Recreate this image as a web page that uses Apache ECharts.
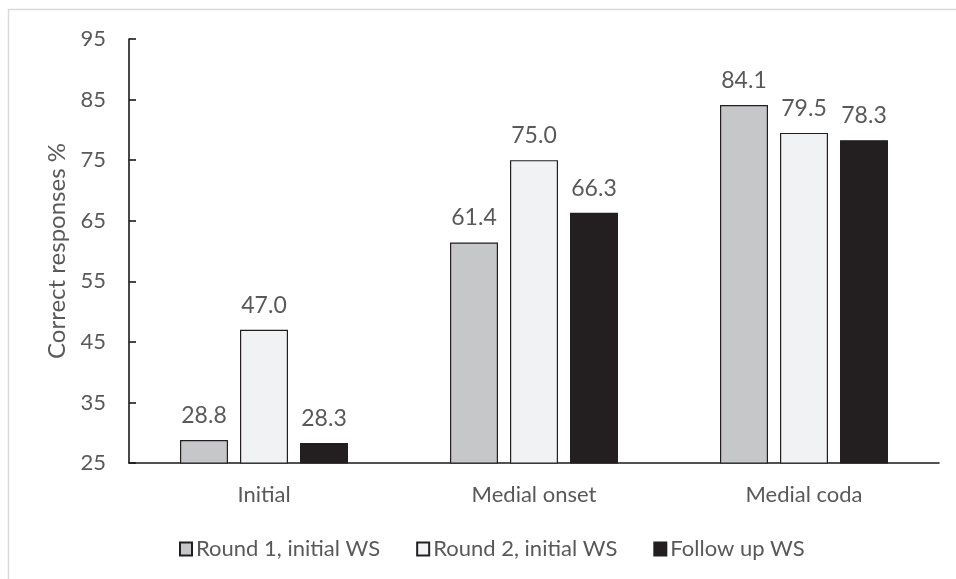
<!DOCTYPE html>
<html>
<head>
<meta charset="utf-8">
<script src="https://cdn.jsdelivr.net/npm/echarts@6/dist/echarts.min.js"></script>
<style>
  html, body { margin: 0; padding: 0; background: #ffffff; }
  #chart { width: 956px; height: 579px; }
</style>
</head>
<body>
<div id="chart"></div>
<script>
// Word-position categories and percentage of correct responses per round
const categories = ['Initial', 'Medial onset', 'Medial coda'];
const seriesNames = ['Round 1, initial WS', 'Round 2, initial WS', 'Follow up WS'];
const round1Values = [28.8, 61.4, 84.1];
const round2Values = [47.0, 75.0, 79.5];
const followUpValues = [28.3, 66.3, 78.3];
const yTicks = { min: 25, max: 95, step: 10 };

const fillColors = ['#c6c7c9', '#f1f2f4', '#231f20'];
const textColor = '#595959';
const fontFamily = 'Lato, "Open Sans", sans-serif';

const chart = echarts.init(document.getElementById('chart'), null, { renderer: 'canvas' });

function barSeries(name, values, color) {
  return {
    name: name,
    type: 'bar',
    data: values,
    barWidth: 48,
    barGap: '25%',
    itemStyle: { color: color, borderColor: '#231f20', borderWidth: 1.2 },
    label: {
      show: true,
      position: 'top',
      distance: 13,
      color: textColor,
      fontFamily: fontFamily,
      fontSize: 23,
      formatter: p => p.value.toFixed(1)
    }
  };
}

chart.setOption({
  animation: false,
  backgroundColor: '#ffffff',
  textStyle: { fontFamily: fontFamily },
  graphic: [{
    type: 'rect',
    shape: { x: 8.5, y: 9.5, width: 1000, height: 1000 },
    style: { fill: 'none', stroke: '#d9d9d9', lineWidth: 1.5 },
    silent: true
  }],
  grid: { left: 129, right: 17, top: 39, bottom: 116, containLabel: false },
  legend: {
    data: seriesNames,
    left: 174,
    top: 533,
    icon: 'rect',
    itemWidth: 12,
    itemHeight: 13,
    itemGap: 36,
    textStyle: { color: textColor, fontSize: 22, fontFamily: fontFamily, padding: [0, 0, 0, -1] }
  },
  xAxis: {
    type: 'category',
    data: categories,
    axisLine: { lineStyle: { color: '#1a1a1a', width: 1.6 } },
    axisTick: { show: false },
    axisLabel: { color: textColor, fontSize: 22, fontFamily: fontFamily, margin: 21 }
  },
  yAxis: {
    type: 'value',
    min: yTicks.min,
    max: yTicks.max,
    interval: yTicks.step,
    name: 'Correct responses %',
    nameLocation: 'middle',
    nameGap: 60,
    nameTextStyle: { color: textColor, fontSize: 24, fontFamily: fontFamily },
    axisLine: { show: true, lineStyle: { color: '#1a1a1a', width: 1.6 } },
    axisTick: { show: true, inside: true, length: 7, lineStyle: { color: '#1a1a1a', width: 1.6 } },
    splitLine: { show: false },
    axisLabel: { color: textColor, fontSize: 22, fontFamily: fontFamily, margin: 23 }
  },
  series: [
    barSeries(seriesNames[0], round1Values, fillColors[0]),
    barSeries(seriesNames[1], round2Values, fillColors[1]),
    barSeries(seriesNames[2], followUpValues, fillColors[2])
  ]
});
</script>
</body>
</html>
